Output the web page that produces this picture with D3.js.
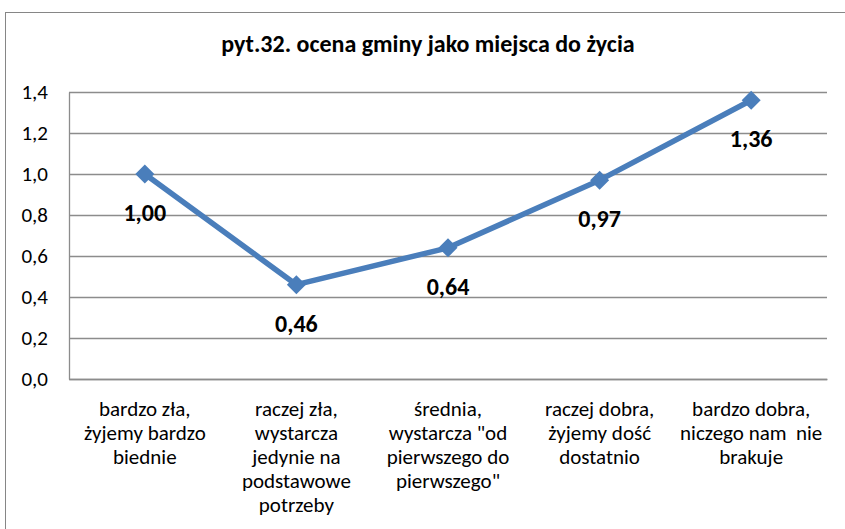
<!DOCTYPE html>
<html>
<head>
<meta charset="utf-8">
<script src="https://cdn.jsdelivr.net/npm/d3@7"></script>
<style>
  body { margin: 0; background: #fff; }
  svg text { font-family: Carlito, "Noto Sans", "DejaVu Sans", sans-serif; fill: #000; }
</style>
</head>
<body>
<div id="chart"></div>
<script>
// data
let categories = [
    ["bardzo zła,", "żyjemy bardzo", "biednie"],
    ["raczej zła,", "wystarcza", "jedynie na", "podstawowe", "potrzeby"],
    ["średnia,", "wystarcza \"od", "pierwszego do", "pierwszego\""],
    ["raczej dobra,", "żyjemy dość", "dostatnio"],
    ["bardzo dobra,", "niczego nam  nie", "brakuje"]
];
let values = [1.00, 0.46, 0.64, 0.97, 1.36];
let yTicks = [0, 0.2, 0.4, 0.6, 0.8, 1.0, 1.2, 1.4];
let title = "pyt.32. ocena gminy jako miejsca do życia";

var width = 845, height = 529;
var margin = {top: 92, right: 18, bottom: 150, left: 69};
var w = width - margin.left - margin.right;
var h = height - margin.top - margin.bottom;

var fmt = function(v, d) { return v.toFixed(d).replace(".", ","); };

var svg = d3.select("#chart").append("svg")
    .attr("width", width)
    .attr("height", height);

// outer chart border
svg.append("rect")
    .attr("x", 5.5).attr("y", 12.5)
    .attr("width", width + 10).attr("height", height + 10)
    .attr("fill", "none")
    .attr("stroke", "#868686")
    .attr("stroke-width", 1);

svg.append("text")
    .attr("x", 428).attr("y", 52)
    .attr("text-anchor", "middle")
    .style("font-size", "24px")
    .style("font-weight", "bold")
    .text(title);

var g = svg.append("g")
    .attr("transform", "translate(" + margin.left + "," + margin.top + ")");

var xScale = d3.scaleBand()
    .domain(d3.range(values.length))
    .range([0, w]);

var yScale = d3.scaleLinear()
    .domain([0, 1.4])
    .range([h, 0]);

// gridlines
g.selectAll(".grid")
    .data(yTicks)
    .enter().append("line")
    .attr("x1", 0).attr("x2", w)
    .attr("y1", d => Math.round(yScale(d)) + 0.5)
    .attr("y2", d => Math.round(yScale(d)) + 0.5)
    .attr("stroke", "#8c8c8c")
    .attr("stroke-width", 1.3);

// y axis
var yAxis = d3.axisLeft(yScale)
    .tickValues(yTicks)
    .tickSize(0)
    .tickPadding(21)
    .tickFormat(d => fmt(d, 1));

g.append("g")
    .attr("class", "y axis")
    .call(yAxis)
    .call(s => s.select(".domain").attr("stroke", "#8c8c8c").attr("stroke-width", 1.3))
    .selectAll("text")
    .style("font-size", "21px")
    .style("font-family", null);

// x axis (category labels, multi line)
var xAxis = d3.axisBottom(xScale).tickSize(0).tickFormat("");
var xg = g.append("g")
    .attr("class", "x axis")
    .attr("transform", "translate(0," + h + ")")
    .call(xAxis);
xg.select(".domain").attr("stroke", "#8c8c8c").attr("stroke-width", 1.3);

xg.selectAll(".tick").each(function(d) {
    var t = d3.select(this).append("text")
        .attr("text-anchor", "middle")
        .attr("y", 37)
        .style("font-size", "21px");
    categories[d].forEach(function(line, i) {
        t.append("tspan")
            .attr("x", 0)
            .attr("dy", i == 0 ? 0 : 24)
            .attr("xml:space", "preserve")
            .text(line);
    });
});

var cx = function(d, i) { return xScale(i) + xScale.bandwidth() / 2; };

var line = d3.line()
    .x(cx)
    .y(d => yScale(d));

g.append("path")
    .datum(values)
    .attr("fill", "none")
    .attr("stroke", "#4a7ebb")
    .attr("stroke-width", 5.5)
    .attr("stroke-linejoin", "round")
    .attr("d", line);

var diamond = d3.symbol().type(d3.symbolDiamond2).size(230);
g.selectAll(".dot")
    .data(values)
    .enter().append("path")
    .attr("class", "dot")
    .attr("transform", (d, i) => "translate(" + cx(d, i) + "," + yScale(d) + ")")
    .attr("d", diamond)
    .attr("fill", "#4a7ebb");

g.selectAll(".lbl")
    .data(values)
    .enter().append("text")
    .attr("class", "lbl")
    .attr("x", cx)
    .attr("y", d => yScale(d) + 47)
    .attr("text-anchor", "middle")
    .style("font-size", "24px")
    .style("font-weight", "bold")
    .text(d => fmt(d, 2));
</script>
</body>
</html>
